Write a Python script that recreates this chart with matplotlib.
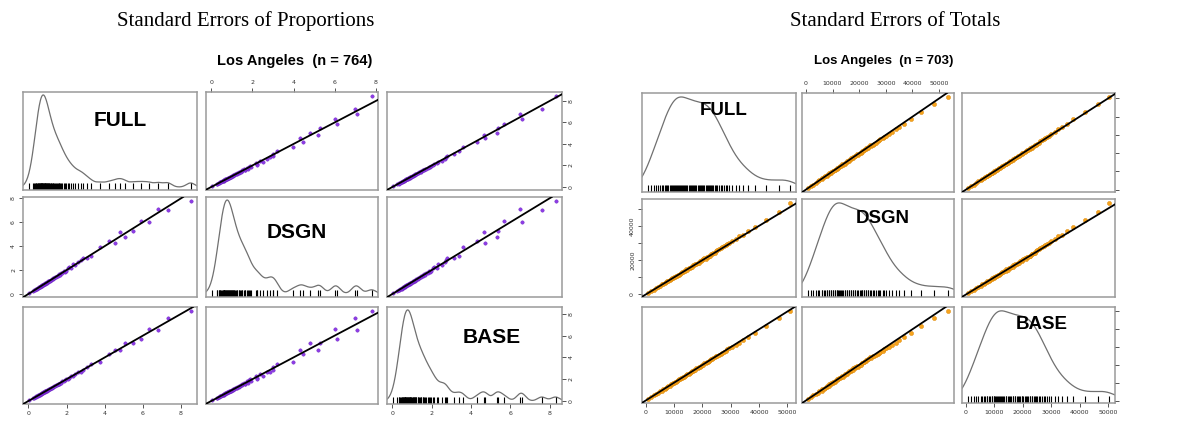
import numpy as np
import matplotlib.pyplot as plt

# standard errors of proportions, Los Angeles (a subset of the 764 areas)
p_full = [0.05,
          0.25, 0.3, 0.34, 0.38,
          0.42, 0.45, 0.48, 0.51, 0.54, 0.56, 0.59,
          0.61, 0.63, 0.65, 0.67, 0.69, 0.71, 0.73, 0.75, 0.78,
          0.8, 0.82, 0.84, 0.86, 0.88, 0.9, 0.93, 0.95, 0.98,
          1.01, 1.04, 1.07, 1.1, 1.13, 1.16, 1.19,
          1.23, 1.27, 1.31, 1.35, 1.39,
          1.43, 1.48, 1.53, 1.58, 1.62,
          1.64, 1.71, 1.78, 1.9,
          1.86, 1.95, 2.15,
          2.08, 2.22, 2.36, 2.45,
          2.6, 2.75, 2.85, 3.05,
          3.3, 3.75, 4.2, 4.55, 4.8, 5.05, 5.5, 5.9, 6.3, 6.8, 7.3, 8.5]
p_dsgn = [0.05,
          0.26, 0.29, 0.35, 0.37,
          0.43, 0.44, 0.49, 0.5, 0.55, 0.55, 0.6,
          0.6, 0.64, 0.64, 0.68, 0.68, 0.72, 0.72, 0.76, 0.77,
          0.81, 0.81, 0.85, 0.85, 0.89, 0.89, 0.94, 0.94, 0.99,
          1.0, 1.05, 1.06, 1.11, 1.12, 1.17, 1.18,
          1.25, 1.26, 1.33, 1.34, 1.41,
          1.42, 1.51, 1.5, 1.62, 1.66,
          1.6, 1.76, 1.74, 1.85,
          1.93, 1.9, 2.22,
          2.2, 2.15, 2.5, 2.38,
          2.7, 2.85, 3.0, 3.0,
          3.2, 3.95, 4.45, 4.3, 5.2, 4.8, 5.3, 6.1, 6.0, 7.1, 7.0, 7.8]
p_base = [0.05,
          0.24, 0.31, 0.33, 0.39,
          0.41, 0.46, 0.47, 0.52, 0.53, 0.57, 0.58,
          0.62, 0.62, 0.66, 0.66, 0.7, 0.7, 0.74, 0.74, 0.79,
          0.79, 0.83, 0.83, 0.87, 0.87, 0.91, 0.92, 0.96, 0.97,
          1.02, 1.03, 1.08, 1.09, 1.14, 1.15, 1.2,
          1.22, 1.28, 1.3, 1.36, 1.38,
          1.45, 1.46, 1.55, 1.56, 1.6,
          1.67, 1.69, 1.8, 1.93,
          1.84, 1.98, 2.1,
          2.05, 2.28, 2.33, 2.52,
          2.65, 2.7, 2.8, 3.15,
          3.4, 3.6, 4.3, 4.7, 4.65, 5.3, 5.35, 5.7, 6.6, 6.5, 7.6, 8.3]

# standard errors of totals, Los Angeles (a subset of the 703 areas)
t_full = [700, 1800, 2800, 3700, 4500,
          5200, 5700, 6200, 6700, 7200, 7600, 8000, 8500, 8900, 9300, 9700,
          10000, 10300, 10700, 11000, 11400, 11700, 12000, 12400, 12700, 13100,
          13500, 13900, 14300, 14700,
          15100, 15500, 15900, 16300, 16700, 17100, 17500, 17900, 18300, 18700,
          19100, 19500, 19900,
          20300, 20700, 21100, 21500, 21900, 22300, 22700, 23100, 23500, 23900,
          24300, 24700,
          25200, 25800, 26400, 27000, 27600, 28200, 28800, 29500,
          30500, 31700, 33000, 34300,
          36000, 38500, 42500, 47000, 51000]
t_dsgn = [650, 1900, 2700, 3800, 4600,
          5100, 5900, 6100, 6900, 7100, 7800, 7900, 8700, 8800, 9500, 9600,
          10200, 10200, 10900, 10900, 11600, 11600, 12200, 12300, 12900, 13000,
          13800, 13700, 14600, 14500,
          15400, 15300, 16200, 16100, 17000, 16900, 17800, 17700, 18600, 18500,
          19500, 19300, 20300,
          20600, 21100, 20900, 21900, 21700, 22700, 22500, 23500, 23300, 24400,
          24100, 25200,
          25700, 26300, 26900, 27500, 28000, 28800, 29300, 30100,
          31200, 32200, 33800, 34900,
          36800, 39300, 43200, 48200, 53500]
t_base = [600, 1750, 2900, 3600, 4400,
          5300, 5600, 6300, 6600, 7300, 7500, 8100, 8400, 9000, 9200, 9800,
          9900, 10400, 10600, 11100, 11300, 11800, 11900, 12500, 12600, 13200,
          13400, 14000, 14200, 14800,
          15000, 15600, 15800, 16400, 16600, 17200, 17400, 18000, 18200, 18800,
          19000, 19600, 19800,
          20200, 20800, 21000, 21600, 21800, 22400, 22600, 23200, 23400, 24000,
          24200, 24800,
          25000, 25600, 26200, 26900, 27400, 28000, 28700, 29200,
          30100, 31300, 32500, 33800,
          35600, 37800, 41900, 46500, 50500]

var_names = ['FULL', 'DSGN', 'BASE']
p_ticks = [0, 2, 4, 6, 8]
t_ticks = [0, 10000, 20000, 30000, 40000, 50000]

W, H = 1187, 421
fig = plt.figure(figsize=(W / 100, H / 100), dpi=100)


def panel(x0, x1, y0, y1):
    return fig.add_axes([x0 / W, 1 - y1 / H, (x1 - x0) / W, (y1 - y0) / H])


def kde(vals, grid, bw):
    z = (grid[:, None] - vals[None, :]) / bw
    return np.exp(-0.5 * z ** 2).sum(axis=1)


def style_ticks(ax):
    ax.tick_params(length=3, width=0.7, color='#555555', labelsize=4.5,
                   labelcolor='#333333', pad=2)


def draw_matrix(data, cols, rows, color, edge, msize, bw, ticks, base0,
                lab_pos, lab_size, axis_labels):
    lims = []
    for v in data:
        lo, hi = min(v), max(v)
        lims.append((lo - 0.04 * (hi - lo), hi + 0.04 * (hi - lo)))
    for i in range(3):
        for j in range(3):
            ax = panel(cols[j][0], cols[j][1], rows[i][0], rows[i][1])
            for s in ax.spines.values():
                s.set_color('#9a9a9a')
                s.set_linewidth(1.1)
            ax.set_xlim(lims[j])
            ax.set_xticks([])
            ax.set_yticks([])
            style_ticks(ax)
            if i == j:
                v = np.array(data[i])
                grid = np.linspace(lims[i][0], lims[i][1], 300)
                d = kde(v, grid, bw)
                tot = d.max() / (1 - 2 * base0)
                ax.set_ylim(-base0 * tot, d.max() + base0 * tot)
                ax.plot(grid, d, color='#707070', lw=0.9)
                ax.vlines(v, 0, 0.07, transform=ax.get_xaxis_transform(),
                          color='black', lw=0.8)
                ax.text(lab_pos[i][0], lab_pos[i][1], var_names[i],
                        transform=ax.transAxes, ha='center', va='center',
                        fontsize=lab_size, fontweight='bold',
                        family='Liberation Sans')
                yax = ax.twinx()
                yax.set_ylim(lims[i])
                yax.set_yticks([])
                style_ticks(yax)
                for s in yax.spines.values():
                    s.set_visible(False)
            else:
                ax.set_ylim(lims[i])
                ax.scatter(data[j], data[i], s=msize, color=color,
                           edgecolors=edge, linewidths=0.3, zorder=2)
                ax.axline((0, 0), slope=1, color='black', lw=1.3, zorder=3)
                yax = ax
            # axes in the R pairs() layout
            if i == 0 and j % 2 == 1:
                ax.xaxis.set_ticks_position('top')
                ax.set_xticks(ticks)
                ax.set_xticklabels([str(t) for t in ticks])
            if i == 2 and j % 2 == 0:
                ax.xaxis.set_ticks_position('bottom')
                ax.set_xticks(ticks)
                ax.set_xticklabels([str(t) for t in ticks])
            if j == 0 and i % 2 == 1:
                yax.yaxis.set_ticks_position('left')
                yax.set_yticks(ticks)
                yax.set_yticklabels(axis_labels['left'], rotation=90,
                                    va='center')
            if j == 2 and i % 2 == 0:
                yax.yaxis.set_ticks_position('right')
                yax.set_yticks(ticks)
                yax.set_yticklabels(axis_labels['right'], rotation=90,
                                    va='center')


# left block: proportions
draw_matrix([p_full, p_dsgn, p_base],
            cols=[(23, 197), (206, 378), (387, 562)],
            rows=[(92, 190), (197, 297), (307, 404)],
            color='#8E3CE6', edge='#6A1FC0', msize=6, bw=0.22, ticks=p_ticks,
            base0=0.03,
            lab_pos=[(0.56, 0.71), (0.53, 0.65), (0.6, 0.69)], lab_size=15,
            axis_labels={'left': [str(t) for t in p_ticks],
                         'right': [str(t) for t in p_ticks]})

# right block: totals
draw_matrix([t_full, t_dsgn, t_base],
            cols=[(642, 796), (802, 954), (962, 1115)],
            rows=[(93, 192), (199, 297), (307, 403)],
            color='#F7A41E', edge='#D98300', msize=9, bw=3000, ticks=t_ticks,
            base0=0.04,
            lab_pos=[(0.53, 0.82), (0.53, 0.80), (0.52, 0.82)], lab_size=13.5,
            axis_labels={'left': ['0', '', '20000', '', '40000', ''],
                         'right': [''] * 6})

fig.text(246 / W, 1 - 21 / H, 'Standard Errors of Proportions', ha='center',
         va='center', fontsize=15, family='Liberation Serif')
fig.text(895 / W, 1 - 21 / H, 'Standard Errors of Totals', ha='center',
         va='center', fontsize=15, family='Liberation Serif')
fig.text(295 / W, 1 - 61 / H, 'Los Angeles  (n = 764)', ha='center',
         va='center', fontsize=10.5, fontweight='bold', family='Liberation Sans')
fig.text(884 / W, 1 - 61 / H, 'Los Angeles  (n = 703)', ha='center',
         va='center', fontsize=9.5, fontweight='bold', family='Liberation Sans')

fig.savefig('out.png', dpi=100)
